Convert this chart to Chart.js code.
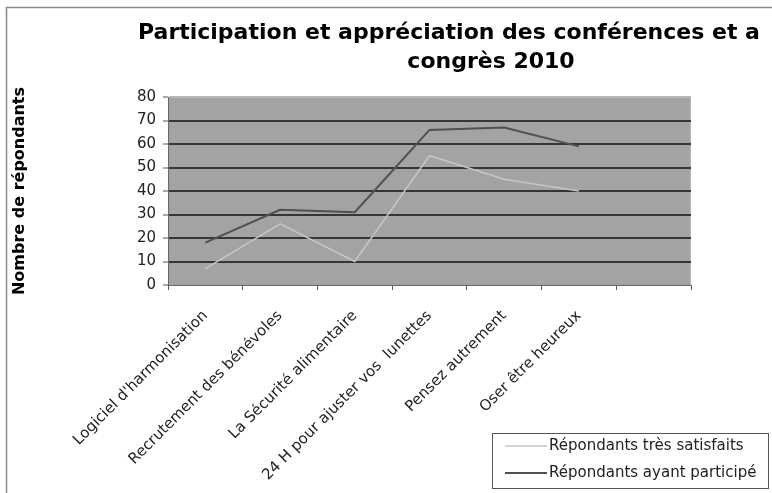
<!DOCTYPE html>
<html><head><meta charset="utf-8">
<script src="https://cdn.jsdelivr.net/npm/chart.js@4"></script>
<style>html,body{margin:0;padding:0;background:#fff}</style>
</head><body>
<canvas id="c" width="772" height="493"></canvas>
<script>
const categories = ["Logiciel d'harmonisation", "Recrutement des bénévoles", "La Sécurité alimentaire", "24 H pour ajuster vos  lunettes", "Pensez autrement", "Oser être heureux", ""];
const tresSatisfaits = [7, 26, 10, 55, 45, 40, null];
const ayantParticipe = [18, 32, 31, 66, 67, 59, null];
const yMin = 0, yMax = 80, yStep = 10;
const titleLines = ["Participation et appréciation des conférences et a", "congrès 2010"];
const yTitle = "Nombre de répondants";
const seriesNames = ["Répondants très satisfaits", "Répondants ayant participé"];

const FONT = "'DejaVu Sans', Verdana, sans-serif";

const framePlugin = {
  id: 'frame',
  beforeDraw(chart) {
    const {ctx, chartArea: a} = chart;
    ctx.save();
    ctx.fillStyle = '#fff';
    ctx.fillRect(0, 0, chart.width, chart.height);
    ctx.strokeStyle = '#8a8a8a';
    ctx.lineWidth = 1.5;
    ctx.beginPath();
    ctx.moveTo(6.5, chart.height);
    ctx.lineTo(6.5, 7.5);
    ctx.lineTo(chart.width, 7.5);
    ctx.stroke();
    ctx.fillStyle = '#a3a3a3';
    ctx.fillRect(a.left, a.top, a.right - a.left, a.bottom - a.top);
    ctx.strokeStyle = '#b8b8b8';
    ctx.lineWidth = 1;
    ctx.strokeRect(a.left + 0.5, a.top + 0.5, a.right - a.left - 1, a.bottom - a.top);
    ctx.restore();
  },
  afterDraw(chart) {
    const {ctx} = chart;
    ctx.save();
    ctx.fillStyle = '#000';
    ctx.font = "bold 22px " + FONT;
    ctx.textBaseline = 'middle';
    ctx.textAlign = 'left';
    ctx.fillText(titleLines[0], 138, 33);
    ctx.textAlign = 'center';
    ctx.fillText(titleLines[1], 491, 62);
    // legend
    const lx = 492, ly = 433, lw = 276, lh = 55;
    ctx.fillStyle = '#fff';
    ctx.fillRect(lx, ly, lw, lh);
    ctx.strokeStyle = '#555';
    ctx.lineWidth = 1;
    ctx.strokeRect(lx + 0.5, ly + 0.5, lw, lh);
    ctx.font = "15px " + FONT;
    ctx.textAlign = 'left';
    ctx.fillStyle = '#222';
    chart.data.datasets.forEach((ds, i) => {
      const y = ly + 13 + i * 27;
      ctx.strokeStyle = ds.borderColor;
      ctx.lineWidth = ds.borderWidth;
      ctx.beginPath();
      ctx.moveTo(505, y);
      ctx.lineTo(547, y);
      ctx.stroke();
      ctx.fillText(ds.label, 549, y);
    });
    ctx.restore();
  }
};

new Chart(document.getElementById('c'), {
  type: 'line',
  data: {
    labels: categories,
    datasets: [
      { label: seriesNames[0], data: tresSatisfaits, borderColor: '#c6c6c6', borderWidth: 1.5, pointRadius: 0, tension: 0, fill: false },
      { label: seriesNames[1], data: ayantParticipe, borderColor: '#505050', borderWidth: 2, pointRadius: 0, tension: 0, fill: false }
    ]
  },
  options: {
    responsive: false,
    animation: false,
    events: [],
    layout: { padding: { top: 97, right: 81, left: 0, bottom: 0 } },
    plugins: { legend: { display: false }, title: { display: false }, tooltip: { enabled: false } },
    scales: {
      x: {
        offset: true,
        grid: { offset: true, drawOnChartArea: false, drawTicks: true, tickLength: 5, color: '#555', lineWidth: 1 },
        border: { display: true, color: '#666', width: 1 },
        ticks: { maxRotation: 45, minRotation: 45, color: '#222', font: { family: FONT, size: 15 }, padding: 17, autoSkip: false },
        afterFit(s) { s.height = 208; }
      },
      y: {
        min: yMin, max: yMax,
        ticks: { stepSize: yStep, color: '#222', font: { family: FONT, size: 15 }, padding: 7 },
        grid: {
          color: (c) => c.tick.value === yMin ? 'rgba(0,0,0,0)' : (c.tick.value === yMax ? '#b8b8b8' : '#363636'),
          lineWidth: 2, drawTicks: true, tickLength: 5, tickColor: '#555', tickWidth: 1
        },
        border: { display: true, color: '#666', width: 1 },
        title: { display: true, text: yTitle, color: '#000', font: { family: FONT, size: 16, weight: 'bold' }, padding: { top: 10, bottom: 0 } },
        afterFit(s) { s.width = 168; }
      }
    }
  },
  plugins: [framePlugin]
});
</script>
</body></html>
